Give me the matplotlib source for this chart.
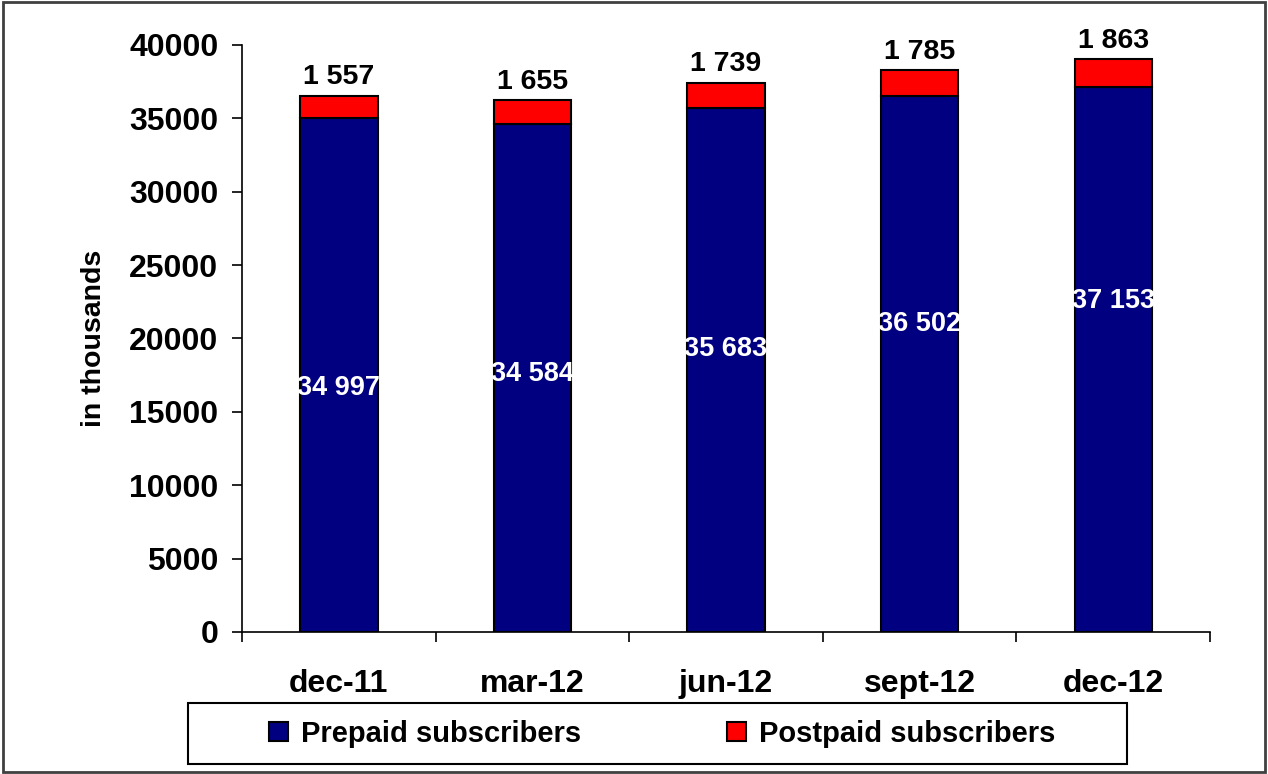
import matplotlib
matplotlib.use("Agg")
import matplotlib.pyplot as plt
from matplotlib.patches import Rectangle
import numpy as np

plt.rcParams['font.family'] = ['Liberation Sans', 'DejaVu Sans']
plt.rcParams['font.weight'] = 'bold'

quarters = ["dec-11", "mar-12", "jun-12", "sept-12", "dec-12"]
prepaid = [34997, 34584, 35683, 36502, 37153]
postpaid = [1557, 1655, 1739, 1785, 1863]

def fmt(v):
	return "{:,}".format(v).replace(",", " ")

fig = plt.figure(figsize=(12.68, 7.74), dpi=100)
ax = fig.add_axes([0.1909, 0.1835, 0.7634, 0.7584])

x = np.arange(len(quarters))
w = 0.4
navy = "#000080"
red = "#ff0000"

b1 = ax.bar(x, prepaid, w, color=navy, edgecolor="black", linewidth=1.5, label="Prepaid subscribers")
b2 = ax.bar(x, postpaid, w, bottom=prepaid, color=red, edgecolor="black", linewidth=1.5, label="Postpaid subscribers")

# labels inside prepaid bars (white, slightly climbing like the original)
for i, v in enumerate(prepaid):
	ax.text(x[i], v * (0.475 + 0.033 * i), fmt(v), color="white", ha="center", va="center",
		fontsize=19.5, fontweight="bold")
for i, v in enumerate(postpaid):
	ax.annotate(fmt(v), (x[i], prepaid[i] + v), xytext=(0, 4), textcoords="offset points",
		ha="center", va="bottom", fontsize=20.5, fontweight="bold")

ax.set_xlim(-0.5, len(quarters) - 0.5)
ax.set_ylim(0, 40000)
ax.set_yticks(np.arange(0, 40001, 5000))
ax.tick_params(axis="y", labelsize=23, direction="out", length=7, width=1.2, pad=10)
ax.set_xticks(x)
ax.set_xticklabels(quarters, fontsize=23, fontweight="bold")
ax.set_xticks(np.arange(-0.5, len(quarters)), minor=True)
ax.tick_params(axis="x", which="major", length=0, pad=27)
ax.tick_params(axis="x", which="minor", direction="out", length=7, width=1.2)
for lab in ax.get_yticklabels():
	lab.set_fontweight("bold")

ax.spines["top"].set_visible(False)
ax.spines["right"].set_visible(False)
ax.spines["left"].set_linewidth(1.2)
ax.spines["bottom"].set_linewidth(1.2)

ax.set_ylabel("in thousands", fontsize=20.5, fontweight="bold", labelpad=16)

leg = fig.legend(handles=[b1, b2], loc="center", bbox_to_anchor=(0.522, 0.0523), ncol=2,
	fontsize=21, frameon=False, borderpad=0.3,
	handlelength=0.65, handleheight=0.65, handletextpad=0.45, columnspacing=5.0)
for t in leg.get_texts():
	t.set_fontweight("bold")

# legend box drawn separately (wide horizontal padding like the original)
fig.patches.append(Rectangle((0.1483, 0.0129), 0.7405, 0.0788, transform=fig.transFigure,
	fill=False, edgecolor="black", linewidth=1.5))
fig.patches.append(Rectangle((0.002, 0.002), 0.996, 0.996, transform=fig.transFigure,
	fill=False, edgecolor="#404040", linewidth=2))

fig.savefig("out.png", dpi=100)
